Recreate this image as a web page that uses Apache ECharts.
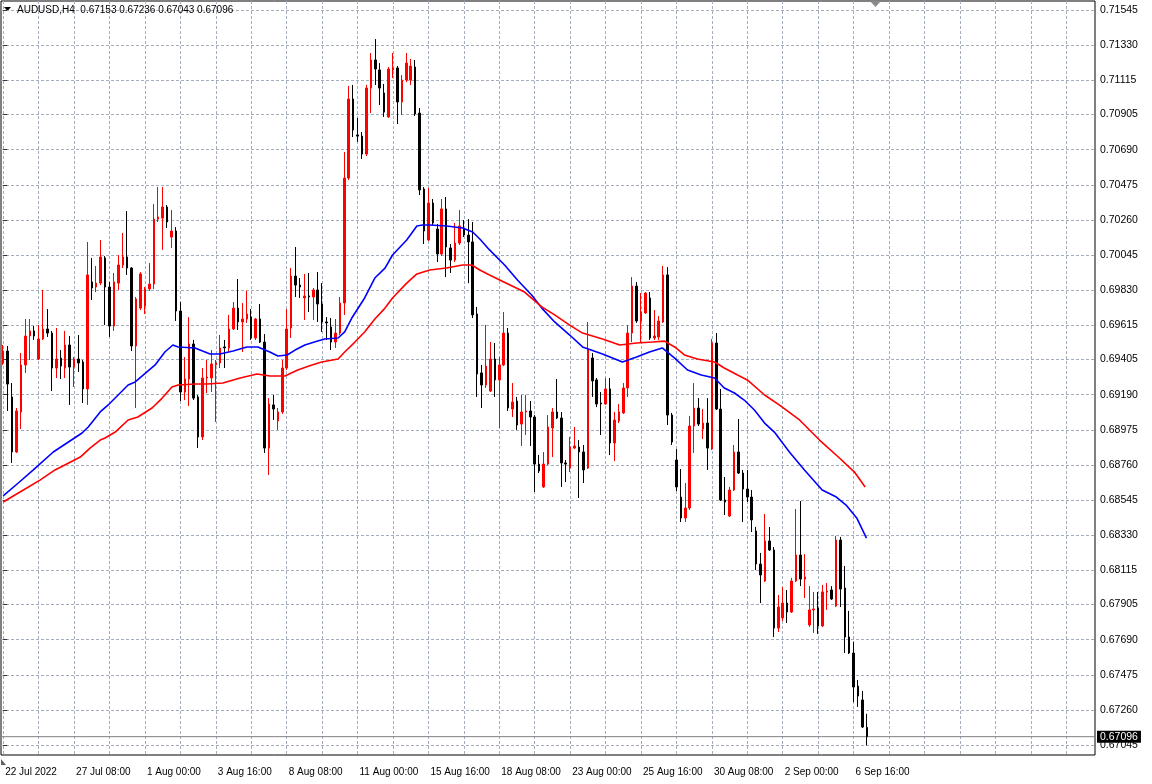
<!DOCTYPE html>
<html><head><meta charset="utf-8">
<script src="https://cdn.jsdelivr.net/npm/echarts@6/dist/echarts.min.js"></script>
<style>html,body{margin:0;padding:0;background:#fff;}#c{width:1152px;height:784px;}</style>
</head><body><div id="c"></div>
<script>
const symbolName = 'AUDUSD,H4';
const xTickIdx = [0,16,32,48,64,80,96,112,128,144,160,176,192];
const xTickLabels = ['22 Jul 2022','27 Jul 08:00','1 Aug 00:00','3 Aug 16:00','8 Aug 08:00','11 Aug 00:00','15 Aug 16:00','18 Aug 08:00','23 Aug 00:00','25 Aug 16:00','30 Aug 08:00','2 Sep 00:00','6 Sep 16:00'];
const xGridIdx = [0,8,16,24,32,40,48,56,64,72,80,88,96,104,112,120,128,136,144,152,160,168,176,184,192,200,208,216,224,232,240];
const yTicks = [0.71545,0.71330,0.71115,0.70905,0.70690,0.70475,0.70260,0.70045,0.69830,0.69615,0.69405,0.69190,0.68975,0.68760,0.68545,0.68330,0.68115,0.67905,0.67690,0.67475,0.67260,0.67045];
const lastPrice = 0.67096;

const opens = [0.69384,0.69457,0.69176,0.68839,0.69084,0.69372,0.69549,0.69580,0.69408,0.69531,0.69592,0.69567,0.69353,0.69414,0.69353,0.69494,0.69359,0.69408,0.69390,0.69225,
0.69880,0.69849,0.69873,0.70027,0.69849,0.69610,0.69873,0.69984,0.70033,0.69965,0.69488,0.69720,0.69733,0.69837,0.69867,0.70265,0.70271,0.70339,0.70155,0.70192,
0.69702,0.69206,0.69286,0.69500,0.69176,0.68931,0.69292,0.69292,0.69372,0.69384,0.69482,0.69476,0.69592,0.69720,0.69635,0.69653,0.69665,0.69537,0.69653,0.69512,
0.68863,0.69127,0.69029,0.69084,0.69353,0.69598,0.69916,0.69861,0.69782,0.69794,0.69788,0.69831,0.69745,0.69635,0.69604,0.69512,0.69567,0.69751,0.70516,0.71000,
0.70780,0.70773,0.70663,0.71067,0.71239,0.71178,0.71037,0.70890,0.71178,0.71190,0.70982,0.71116,0.71116,0.71196,0.70914,0.70449,0.70137,0.70363,0.70204,0.70051,
0.70327,0.70088,0.70014,0.70118,0.70204,0.70167,0.70125,0.69684,0.69323,0.69249,0.69212,0.69408,0.69280,0.69372,0.69567,0.69102,0.69151,0.69010,0.69084,0.69090,
0.69053,0.68765,0.68625,0.68765,0.68986,0.69084,0.69047,0.68772,0.68741,0.68863,0.68869,0.68839,0.68741,0.69414,0.69280,0.69139,0.69133,0.69225,0.68894,0.69029,
0.69078,0.69231,0.69567,0.69855,0.69641,0.69690,0.69782,0.69537,0.69543,0.69635,0.69923,0.69065,0.68790,0.68563,0.68435,0.68496,0.68998,0.69108,0.68980,0.69016,
0.68857,0.69506,0.69102,0.68545,0.68447,0.68606,0.68839,0.68710,0.68612,0.68563,0.68355,0.68153,0.68049,0.68294,0.68239,0.67761,0.67823,0.67914,0.67859,0.68049,
0.68208,0.68061,0.67780,0.67872,0.67884,0.67774,0.67982,0.67994,0.67896,0.68300,0.68006,0.67706,0.67608,0.67406,0.67321,0.67153];
const closes = [0.69457,0.69255,0.68839,0.69090,0.69372,0.69549,0.69580,0.69549,0.69531,0.69592,0.69567,0.69353,0.69408,0.69365,0.69494,0.69359,0.69408,0.69384,0.69225,0.69923,
0.69843,0.69873,0.70033,0.69849,0.69610,0.69880,0.69984,0.70033,0.69965,0.69488,0.69776,0.69929,0.69837,0.69867,0.70265,0.70278,0.70339,0.70247,0.70192,0.69702,
0.69206,0.69286,0.69500,0.69169,0.68931,0.69292,0.69298,0.69378,0.69384,0.69476,0.69476,0.69592,0.69720,0.69635,0.69653,0.69684,0.69537,0.69653,0.69512,0.68863,
0.69133,0.69102,0.69084,0.69353,0.69592,0.69916,0.69861,0.69849,0.69794,0.69788,0.69831,0.69745,0.69635,0.69629,0.69512,0.69567,0.69751,0.70516,0.71000,0.70810,
0.70773,0.70663,0.71067,0.71239,0.71184,0.71067,0.70920,0.71184,0.71190,0.70982,0.71116,0.71220,0.71202,0.70908,0.70443,0.70192,0.70363,0.70241,0.70051,0.70327,
0.70094,0.70014,0.70118,0.70223,0.70167,0.70125,0.69678,0.69316,0.69249,0.69365,0.69408,0.69280,0.69372,0.69567,0.69108,0.69145,0.69004,0.69084,0.69090,0.69053,
0.68765,0.68723,0.68765,0.68992,0.69084,0.69047,0.68772,0.68765,0.68869,0.68876,0.68839,0.68729,0.69469,0.69274,0.69133,0.69133,0.69225,0.68894,0.69035,0.69084,
0.69231,0.69567,0.69855,0.69641,0.69696,0.69812,0.69537,0.69549,0.69641,0.69923,0.69065,0.68900,0.68625,0.68435,0.68496,0.68998,0.69108,0.69010,0.69016,0.68863,
0.69506,0.69102,0.68545,0.68533,0.68606,0.68839,0.68710,0.68612,0.68563,0.68423,0.68153,0.68086,0.68294,0.68239,0.67761,0.67890,0.67914,0.67859,0.68049,0.68208,
0.68061,0.68074,0.67872,0.67878,0.67774,0.67982,0.67988,0.67939,0.68300,0.68000,0.67706,0.67608,0.67400,0.67345,0.67155,0.67096];
const lows = [0.69372,0.69090,0.68772,0.68833,0.68980,0.69323,0.69402,0.69525,0.69402,0.69525,0.69543,0.69212,0.69292,0.69286,0.69292,0.69127,0.69237,0.69329,0.69139,0.69127,
0.69769,0.69818,0.69861,0.69616,0.69543,0.69580,0.69831,0.69965,0.69923,0.69457,0.69108,0.69708,0.69684,0.69825,0.69837,0.70247,0.70076,0.70210,0.70088,0.69641,
0.69151,0.69157,0.69121,0.69157,0.68863,0.68912,0.69200,0.69206,0.69023,0.69353,0.69353,0.69451,0.69586,0.69586,0.69451,0.69629,0.69525,0.69525,0.69506,0.68833,
0.68698,0.69035,0.68974,0.69072,0.69341,0.69537,0.69788,0.69782,0.69647,0.69696,0.69647,0.69635,0.69574,0.69525,0.69463,0.69476,0.69555,0.69678,0.70504,0.70767,
0.70737,0.70633,0.70651,0.70914,0.71086,0.70963,0.70890,0.70884,0.71129,0.70847,0.70902,0.71104,0.71086,0.70896,0.70412,0.70112,0.70131,0.70229,0.70002,0.70039,
0.69910,0.69935,0.70002,0.70106,0.70155,0.69873,0.69659,0.69176,0.69108,0.69231,0.69206,0.69176,0.68986,0.69365,0.69090,0.69053,0.68974,0.68876,0.68943,0.68876,
0.68594,0.68710,0.68619,0.68759,0.68808,0.69041,0.68625,0.68655,0.68716,0.68857,0.68557,0.68649,0.68735,0.69176,0.69114,0.68943,0.69127,0.68820,0.68784,0.69016,
0.69072,0.69176,0.69512,0.69629,0.69512,0.69684,0.69525,0.69525,0.69525,0.69629,0.69004,0.68882,0.68600,0.68410,0.68410,0.68484,0.68833,0.68998,0.68918,0.68729,
0.68851,0.69096,0.68539,0.68453,0.68441,0.68600,0.68704,0.68410,0.68533,0.68349,0.68116,0.67914,0.68043,0.68233,0.67706,0.67737,0.67804,0.67792,0.67853,0.68043,
0.68018,0.67945,0.67768,0.67731,0.67725,0.67768,0.67872,0.67933,0.67890,0.67890,0.67608,0.67602,0.67308,0.67278,0.67149,0.67043];
const highs = [0.69494,0.69488,0.69261,0.69108,0.69445,0.69653,0.69653,0.69610,0.69616,0.69831,0.69714,0.69580,0.69598,0.69463,0.69580,0.69549,0.69420,0.69555,0.69402,0.70125,
0.70027,0.69978,0.70137,0.70039,0.69880,0.69935,0.70045,0.70180,0.70314,0.69971,0.69788,0.69941,0.69849,0.69996,0.70357,0.70461,0.70461,0.70351,0.70320,0.70216,
0.69757,0.69420,0.69665,0.69525,0.69188,0.69353,0.69402,0.69463,0.69402,0.69555,0.69525,0.69678,0.69757,0.69898,0.69751,0.69825,0.69714,0.69659,0.69745,0.69561,
0.69169,0.69188,0.69108,0.69402,0.69714,0.69965,0.70094,0.69904,0.69929,0.69935,0.69843,0.69941,0.69873,0.69665,0.69659,0.69653,0.69788,0.70676,0.71080,0.71086,
0.70884,0.70798,0.71086,0.71282,0.71367,0.71220,0.71092,0.71196,0.71282,0.71202,0.71147,0.71282,0.71245,0.71239,0.70945,0.70461,0.70455,0.70388,0.70235,0.70388,
0.70400,0.70112,0.70241,0.70320,0.70259,0.70265,0.70247,0.69727,0.69372,0.69616,0.69512,0.69506,0.69420,0.69696,0.69598,0.69261,0.69176,0.69188,0.69188,0.69151,
0.69065,0.68821,0.68839,0.69065,0.69108,0.69286,0.69084,0.68790,0.68931,0.68992,0.68912,0.68882,0.69635,0.69445,0.69292,0.69206,0.69292,0.69292,0.69084,0.69133,
0.69261,0.69616,0.69910,0.69880,0.69812,0.69818,0.69818,0.69708,0.69672,0.69978,0.69971,0.69078,0.68857,0.68735,0.68649,0.69059,0.69261,0.69169,0.69102,0.69169,
0.69531,0.69567,0.69225,0.68686,0.68625,0.68882,0.69041,0.68729,0.68729,0.68606,0.68380,0.68221,0.68459,0.68380,0.68257,0.67963,0.68012,0.67994,0.68068,0.68490,
0.68539,0.68214,0.68018,0.67982,0.67982,0.68025,0.68037,0.68018,0.68325,0.68319,0.68141,0.67866,0.67676,0.67443,0.67376,0.67236];

// moving averages: bar index and value
const maBlueIdx = [0,3.4,6.8,11.3,17.8,19.2,21.9,23.7,28.2,29.8,34.3,36.5,38.3,39.5,43.3,46.7,48.9,51.9,55.0,57.5,60.2,62.0,64.1,65.9,68.1,71.0,72.6,75.6,77.1,78.7,81.6,83.9,86.2,87.9,91.1,93.4,94.7,96.3,100.1,103.7,106.0,107.6,109.8,113.2,116.1,119.3,121.6,124.5,127.9,130.8,135.3,139.8,143.0,145.9,148.8,151.6,154.5,157.6,160.6,162.8,165.1,167.3,169.6,171.9,174.1,177.5,180.9,184.9,188.1,190.3,192.7,194.9];
const maBlueVal = [0.68570,0.68649,0.68729,0.68839,0.68955,0.68992,0.69084,0.69127,0.69249,0.69268,0.69372,0.69451,0.69494,0.69482,0.69476,0.69439,0.69439,0.69457,0.69482,0.69482,0.69451,0.69427,0.69433,0.69463,0.69494,0.69518,0.69531,0.69537,0.69574,0.69659,0.69782,0.69904,0.69965,0.70045,0.70137,0.70223,0.70229,0.70229,0.70223,0.70210,0.70186,0.70143,0.70076,0.69984,0.69892,0.69800,0.69720,0.69635,0.69555,0.69482,0.69439,0.69390,0.69420,0.69451,0.69476,0.69414,0.69341,0.69310,0.69292,0.69231,0.69200,0.69157,0.69096,0.69016,0.68961,0.68839,0.68729,0.68606,0.68563,0.68514,0.68435,0.68312];
const maRedIdx = [0,3.8,8.3,11.7,17.4,19.6,21.9,23.0,25.3,28.2,30.4,33.6,35.9,38.1,39.5,43.3,46.0,49.6,53.5,57.3,60.2,63.6,66.5,69.7,71.9,75.6,77.1,79.4,81.6,83.9,86.2,87.9,91.1,93.4,96.3,100.1,103.7,105.8,107.6,109.8,112.1,117.7,121.6,124.5,127.9,130.8,135.3,139.2,143.0,146.6,149.3,151.6,153.8,156.7,160.6,162.8,165.8,168.0,171.9,175.2,179.8,184.3,188.8,192.2,194.6];
const maRedVal = [0.68533,0.68594,0.68667,0.68729,0.68808,0.68863,0.68912,0.68925,0.68961,0.69035,0.69053,0.69108,0.69169,0.69237,0.69249,0.69255,0.69255,0.69261,0.69292,0.69316,0.69304,0.69304,0.69341,0.69372,0.69390,0.69408,0.69451,0.69512,0.69574,0.69653,0.69720,0.69782,0.69873,0.69929,0.69953,0.69965,0.69984,0.69984,0.69953,0.69923,0.69892,0.69818,0.69727,0.69678,0.69616,0.69567,0.69531,0.69494,0.69506,0.69512,0.69518,0.69482,0.69433,0.69408,0.69390,0.69353,0.69310,0.69280,0.69188,0.69127,0.69035,0.68912,0.68802,0.68716,0.68625];

const slotCount = 247; // bar slots across the plot width
const candles = opens.map((o, i) => [o, closes[i], lows[i], highs[i]]);
const blueLine = maBlueIdx.map((x, i) => [x, maBlueVal[i]]);
const redLine = maRedIdx.map((x, i) => [x, maRedVal[i]]);
const priceLine = [[-0.5, lastPrice], [slotCount - 0.5, lastPrice]];
const last = candles.length - 1;
const header = symbolName + '  ' + [opens[last], highs[last], lows[last], closes[last]].map(v => v.toFixed(5)).join(' ');

const FONT = 'Liberation Sans';
const gridColor = '#a3adbb';
const chart = echarts.init(document.getElementById('c'), null, {renderer: 'canvas'});
chart.setOption({
  animation: false,
  backgroundColor: '#fff',
  textStyle: {fontFamily: FONT},
  grid: {left: 1, top: 1, right: 57, bottom: 29, show: true, borderColor: '#000', borderWidth: 1, backgroundColor: '#fff'},
  title: {text: header, left: 17, top: 5, padding: 0,
    textStyle: {fontFamily: FONT, fontSize: 10, fontWeight: 'normal', color: '#000'}},
  xAxis: [
    {type: 'category', data: Array.from({length: slotCount}, (_, i) => i), boundaryGap: true, show: false},
    {type: 'value', min: -0.5, max: slotCount - 0.5, position: 'bottom',
      axisLine: {show: false},
      axisTick: {show: false, customValues: xGridIdx},
      splitLine: {show: true, lineStyle: {color: gridColor, type: [3, 2], width: 1}},
      axisLabel: {customValues: xTickIdx, align: 'left', margin: 12, padding: [0, 0, 0, 2],
        fontFamily: FONT, fontSize: 10, color: '#000',
        formatter: v => xTickLabels[xTickIdx.indexOf(Math.round(v))] || ''}}
  ],
  yAxis: {type: 'value', position: 'right', min: 0.669838, max: 0.716001,
    axisLine: {show: false},
    axisTick: {show: true, length: 4, inside: false, lineStyle: {color: '#333'}, customValues: yTicks},
    splitLine: {show: true, lineStyle: {color: gridColor, type: [3, 2], width: 1}},
    axisLabel: {customValues: yTicks, margin: 5, fontFamily: FONT, fontSize: 10.5, color: '#000',
      formatter: v => v.toFixed(5)}},
  series: [
    {type: 'line', xAxisIndex: 1, yAxisIndex: 0, data: priceLine, symbol: 'none', silent: true, z: 1,
      lineStyle: {color: '#808080', width: 1},
      endLabel: {show: true, distance: 2, formatter: () => lastPrice.toFixed(5),
        backgroundColor: '#000', color: '#fff', padding: [1, 3, 0, 3], fontFamily: FONT, fontSize: 10.5}},
    {type: 'candlestick', xAxisIndex: 0, yAxisIndex: 0, data: candles, barWidth: 2, z: 2,
      itemStyle: {color: '#ff0000', color0: '#000000', borderColor: '#ff0000', borderColor0: '#000000', borderWidth: 1}},
    {type: 'line', xAxisIndex: 1, yAxisIndex: 0, data: blueLine, symbol: 'none', silent: true,
      lineStyle: {color: '#0000ff', width: 1.6}, z: 3},
    {type: 'line', xAxisIndex: 1, yAxisIndex: 0, data: redLine, symbol: 'none', silent: true,
      lineStyle: {color: '#ff0000', width: 1.6}, z: 3}
  ],
  graphic: [
    {type: 'polygon', shape: {points: [[4, 7], [11, 7], [7.5, 11]]}, style: {fill: '#000'}},
    {type: 'polygon', shape: {points: [[870, 1], [881, 1], [875.5, 7]]}, style: {fill: '#8a8a8a'}},
    {type: 'polygon', shape: {points: [[1, 759], [1, 765], [6, 765]]}, style: {fill: '#606060'}}
  ]
});
</script></body></html>
